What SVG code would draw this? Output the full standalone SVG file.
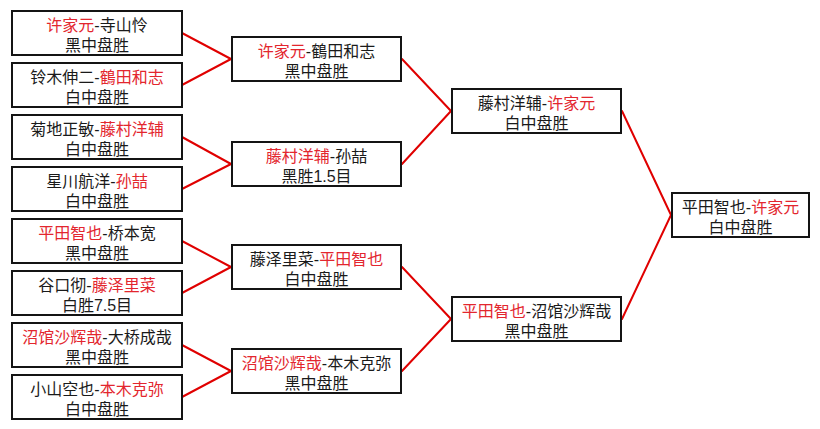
<svg xmlns="http://www.w3.org/2000/svg" width="820" height="429" viewBox="0 0 820 429">
<style>
.bg{fill:#ffffff}
.box{fill:#ffffff;stroke:#141414;stroke-width:2}
.t{font-family:"Liberation Sans","Noto Sans CJK SC","Noto Sans CJK JP",sans-serif;font-size:16px;fill:#1a1a1a;text-anchor:middle}
.r{fill:#e3262e}
.conn line{stroke:#e00000;stroke-width:2;stroke-linecap:round}
</style>
<rect class="bg" x="0" y="0" width="820" height="429"/>
<g id="connectors" class="conn">
<line x1="182" y1="33" x2="231" y2="59"/>
<line x1="182" y1="85" x2="231" y2="59"/>
<line x1="182" y1="137" x2="231" y2="164"/>
<line x1="182" y1="189" x2="231" y2="164"/>
<line x1="182" y1="241" x2="231" y2="267"/>
<line x1="182" y1="293" x2="231" y2="267"/>
<line x1="182" y1="345" x2="231" y2="371"/>
<line x1="182" y1="397" x2="231" y2="371"/>
<line x1="402" y1="59" x2="451" y2="111"/>
<line x1="402" y1="164" x2="451" y2="111"/>
<line x1="402" y1="267" x2="451" y2="319"/>
<line x1="402" y1="371" x2="451" y2="319"/>
<line x1="622" y1="111" x2="671" y2="215"/>
<line x1="622" y1="319" x2="671" y2="215"/>
</g>
<g id="r1-1"><rect class="box" x="12" y="11" width="170" height="44"/><text class="t"><tspan x="97" y="31"><tspan class="r">许家元</tspan>-寺山怜</tspan><tspan x="97" y="51">黑中盘胜</tspan></text></g>
<g id="r1-2"><rect class="box" x="12" y="63" width="170" height="44"/><text class="t"><tspan x="97" y="83">铃木伸二-<tspan class="r">鶴田和志</tspan></tspan><tspan x="97" y="103">白中盘胜</tspan></text></g>
<g id="r1-3"><rect class="box" x="12" y="115" width="170" height="44"/><text class="t"><tspan x="97" y="135">菊地正敏-<tspan class="r">藤村洋辅</tspan></tspan><tspan x="97" y="155">白中盘胜</tspan></text></g>
<g id="r1-4"><rect class="box" x="12" y="167" width="170" height="44"/><text class="t"><tspan x="97" y="187">星川航洋-<tspan class="r">孙喆</tspan></tspan><tspan x="97" y="207">白中盘胜</tspan></text></g>
<g id="r1-5"><rect class="box" x="12" y="219" width="170" height="44"/><text class="t"><tspan x="97" y="239"><tspan class="r">平田智也</tspan>-桥本宽</tspan><tspan x="97" y="259">黑中盘胜</tspan></text></g>
<g id="r1-6"><rect class="box" x="12" y="271" width="170" height="44"/><text class="t"><tspan x="97" y="291">谷口彻-<tspan class="r">藤泽里菜</tspan></tspan><tspan x="97" y="311">白胜7.5目</tspan></text></g>
<g id="r1-7"><rect class="box" x="12" y="323" width="170" height="44"/><text class="t"><tspan x="97" y="343"><tspan class="r">沼馆沙辉哉</tspan>-大桥成哉</tspan><tspan x="97" y="363">黑中盘胜</tspan></text></g>
<g id="r1-8"><rect class="box" x="12" y="375" width="170" height="44"/><text class="t"><tspan x="97" y="395">小山空也-<tspan class="r">本木克弥</tspan></tspan><tspan x="97" y="415">白中盘胜</tspan></text></g>
<g id="r2-1"><rect class="box" x="232" y="37" width="169" height="44"/><text class="t"><tspan x="316.5" y="57"><tspan class="r">许家元</tspan>-鶴田和志</tspan><tspan x="316.5" y="77">黑中盘胜</tspan></text></g>
<g id="r2-2"><rect class="box" x="232" y="142" width="169" height="44"/><text class="t"><tspan x="316.5" y="162"><tspan class="r">藤村洋辅</tspan>-孙喆</tspan><tspan x="316.5" y="182">黑胜1.5目</tspan></text></g>
<g id="r2-3"><rect class="box" x="232" y="245" width="169" height="44"/><text class="t"><tspan x="316.5" y="265">藤泽里菜-<tspan class="r">平田智也</tspan></tspan><tspan x="316.5" y="285">白中盘胜</tspan></text></g>
<g id="r2-4"><rect class="box" x="232" y="349" width="169" height="44"/><text class="t"><tspan x="316.5" y="369"><tspan class="r">沼馆沙辉哉</tspan>-本木克弥</tspan><tspan x="316.5" y="389">黑中盘胜</tspan></text></g>
<g id="r3-1"><rect class="box" x="452" y="89" width="169" height="44"/><text class="t"><tspan x="536.5" y="109">藤村洋辅-<tspan class="r">许家元</tspan></tspan><tspan x="536.5" y="129">白中盘胜</tspan></text></g>
<g id="r3-2"><rect class="box" x="452" y="297" width="169" height="44"/><text class="t"><tspan x="536.5" y="317"><tspan class="r">平田智也</tspan>-沼馆沙辉哉</tspan><tspan x="536.5" y="337">黑中盘胜</tspan></text></g>
<g id="final"><rect class="box" x="672" y="193" width="137" height="44"/><text class="t"><tspan x="740.5" y="213">平田智也-<tspan class="r">许家元</tspan></tspan><tspan x="740.5" y="233">白中盘胜</tspan></text></g>
</svg>
